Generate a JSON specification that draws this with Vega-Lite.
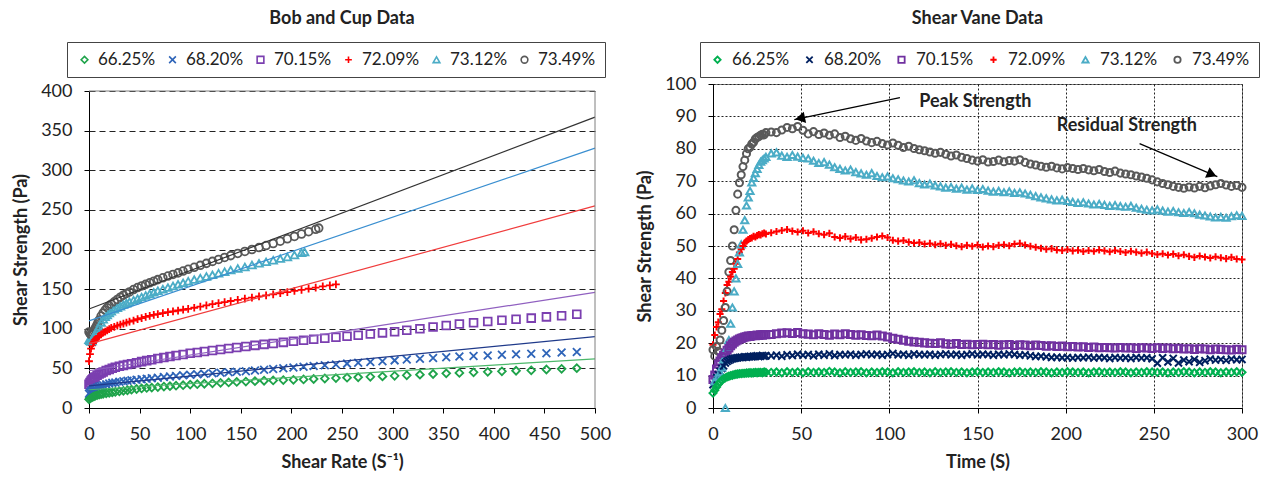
{
"$schema": "https://vega.github.io/schema/vega-lite/v6.json",
"padding": {"left": 12, "top": 9, "right": 1, "bottom": 2},
"background": "white",
"spacing": 25,
"config": {
  "font": "Lato",
  "view": {"stroke": "#7f7f7f", "strokeWidth": 1},
  "axis": {"labelFont": "Lato", "labelFontSize": 18, "labelColor": "#222", "labelOverlap": false, "labelFlush": false, "titleFont": "Lato", "titleFontSize": 18, "titleFontWeight": "bold", "titleColor": "#222", "domainColor": "#000", "tickColor": "#000", "tickSize": 5, "gridColor": "#222", "gridWidth": 1, "labelPadding": 12, "titlePadding": 10},
  "title": {"font": "Lato", "fontSize": 18, "fontWeight": "bold", "color": "#222"},
  "legend": {"labelFont": "Lato", "labelFontSize": 17, "labelColor": "#222"}
},
"hconcat": [
{
  "width": 506, "height": 324,
  "view": {"stroke": null},
  "title": {"text": "Bob and Cup Data", "offset": 14},
  "data": {"values": [
    {"x":0,"a":11,"b":18,"c":30},{"x":1,"a":12.2,"b":19.5,"c":32},{"x":2,"a":13.1,"b":21,"c":34},{"x":3,"a":13.9,"b":22.2,"c":35.5},{"x":4,"a":14.5,"b":23.2,"c":36.8},{"x":5,"a":15,"b":24,"c":38},{"x":6,"a":15.4,"b":24.7,"c":39},{"x":8,"a":16.2,"b":25.9,"c":41.2},{"x":10,"a":17,"b":27,"c":43},{"x":12,"a":17.5,"b":27.9,"c":44.3},{"x":14,"a":18,"b":28.7,"c":45.5},{"x":17,"a":18.6,"b":29.8,"c":47.2},{"x":20,"a":19.2,"b":30.9,"c":48.7},{"x":23,"a":19.7,"b":31.7,"c":50.1},{"x":26,"a":20.3,"b":32.3,"c":51.4},{"x":30,"a":21,"b":33.1,"c":52.7},{"x":34,"a":21.7,"b":33.8,"c":53.8},{"x":38,"a":22.4,"b":34.4,"c":54.9},{"x":42,"a":23.1,"b":34.9,"c":55.9},{"x":47,"a":24,"b":35.6,"c":57.2},{"x":52,"a":24.7,"b":36.3,"c":58.5},{"x":57,"a":25.3,"b":37,"c":59.8},{"x":62,"a":25.8,"b":37.6,"c":61},{"x":68,"a":26.4,"b":38.3,"c":62.4},{"x":74,"a":27,"b":39,"c":63.8},{"x":80,"a":27.6,"b":39.7,"c":65},{"x":86,"a":28.2,"b":40.4,"c":66.2},{"x":93,"a":28.8,"b":41.2,"c":67.5},{"x":100,"a":29.5,"b":42,"c":69},{"x":107,"a":30,"b":42.6,"c":70.1},{"x":114,"a":30.6,"b":43.2,"c":71.3},{"x":122,"a":31.2,"b":43.8,"c":72.5},{"x":130,"a":31.8,"b":44.4,"c":73.8},{"x":138,"a":32.3,"b":45,"c":75.1},{"x":146,"a":32.9,"b":45.7,"c":76.4},{"x":155,"a":33.4,"b":46.5,"c":77.7},{"x":164,"a":33.9,"b":47.4,"c":79},{"x":173,"a":34.4,"b":48.3,"c":80.3},{"x":182,"a":34.8,"b":49.2,"c":81.5},{"x":192,"a":35.2,"b":50.2,"c":82.8},{"x":202,"a":35.6,"b":51.2,"c":84.2},{"x":212,"a":36.1,"b":52.1,"c":85.5},{"x":222,"a":36.6,"b":53,"c":86.8},{"x":233,"a":37.2,"b":54,"c":88},{"x":244,"a":37.7,"b":55,"c":89.3},{"x":255,"a":38.2,"b":56,"c":90.6},{"x":266,"a":38.8,"b":57,"c":91.9},{"x":278,"a":39.3,"b":58,"c":93.3},{"x":290,"a":39.9,"b":59.1,"c":94.8},{"x":302,"a":40.6,"b":60.1,"c":96.3},{"x":314,"a":41.3,"b":61.1,"c":98.1},{"x":327,"a":42.1,"b":62.1,"c":100},{"x":340,"a":42.9,"b":63.1,"c":102.2},{"x":353,"a":43.7,"b":64.1,"c":104.2},{"x":366,"a":44.3,"b":64.9,"c":105.9},{"x":380,"a":45,"b":65.6,"c":107.6},{"x":394,"a":45.6,"b":66.3,"c":109.2},{"x":408,"a":46.3,"b":67.1,"c":110.7},{"x":422,"a":47,"b":67.8,"c":112},{"x":437,"a":47.6,"b":68.5,"c":113.4},{"x":452,"a":48.6,"b":69.2,"c":115},{"x":467,"a":49.4,"b":70,"c":116.5},{"x":482,"a":50.3,"b":70.8,"c":118.2},
    {"x":0,"d":59,"e":86,"f":96},{"x":1,"d":68,"e":85,"f":94},{"x":2,"d":75,"e":84,"f":92.5},{"x":3,"d":79,"e":84.5,"f":92},{"x":4,"d":82,"e":88,"f":95},{"x":5,"d":84,"e":91,"f":97.5},{"x":6,"d":86,"e":93.5,"f":100},{"x":7,"d":87.5,"e":95.5,"f":102.5},{"x":8,"d":89,"e":97.5,"f":105},{"x":9,"d":90,"e":100,"f":108},{"x":10,"d":91,"e":103,"f":111},{"x":12,"d":93,"e":108,"f":116},{"x":14,"d":95,"e":112,"f":120},{"x":16,"d":96.5,"e":115,"f":123.5},{"x":18,"d":98,"e":117.5,"f":126.5},{"x":20,"d":99.5,"e":120,"f":129},{"x":22,"d":101,"e":122,"f":131},{"x":25,"d":102.5,"e":124.5,"f":134},{"x":28,"d":104,"e":126.5,"f":137},{"x":31,"d":105.3,"e":128.5,"f":139.8},{"x":34,"d":106.5,"e":130.5,"f":142.3},{"x":37,"d":107.7,"e":132.3,"f":144.5},{"x":40,"d":109,"e":134,"f":146.5},{"x":44,"d":110.4,"e":136,"f":149.5},{"x":48,"d":112,"e":138,"f":152},{"x":52,"d":113.5,"e":140,"f":154},{"x":56,"d":115,"e":142,"f":156},{"x":60,"d":116.3,"e":144,"f":158},{"x":64,"d":117.4,"e":146,"f":160},{"x":68,"d":118.5,"e":148,"f":162},{"x":73,"d":119.8,"e":150,"f":164.3},{"x":78,"d":121,"e":152,"f":166.5},{"x":83,"d":122,"e":154,"f":168.5},{"x":88,"d":123,"e":156,"f":170.5},{"x":93,"d":124,"e":158,"f":172.8},{"x":98,"d":125,"e":160,"f":175},{"x":104,"d":126.5,"e":162,"f":177.5},{"x":110,"d":128,"e":164,"f":180},{"x":116,"d":129.5,"e":166,"f":182.5},{"x":122,"d":131,"e":168,"f":185},{"x":128,"d":132.3,"e":170,"f":187.5},{"x":134,"d":133.6,"e":172,"f":190},{"x":140,"d":135,"e":174,"f":192.3},{"x":147,"d":136.5,"e":176,"f":195},{"x":154,"d":138,"e":178,"f":197.5},{"x":161,"d":139.4,"e":180.5,"f":200},{"x":168,"d":140.8,"e":182.5,"f":202.5},{"x":175,"d":142.2,"e":184.5,"f":205},{"x":182,"d":143.5,"e":186.5,"f":207.5},{"x":189,"d":144.8,"e":188.5,"f":210.5},{"x":196,"d":146.2,"e":190.5,"f":213.5},{"x":203,"d":147.7,"e":193,"f":216.5},{"x":210,"d":149,"e":196,"f":219.5},{"x":213,"e":197},{"x":217,"d":150.5,"f":222.5},{"x":224,"d":152,"f":225.5},{"x":227,"f":227},{"x":231,"d":153.4},{"x":238,"d":154.8},{"x":244,"d":156}
  ]},
  "encoding": {
    "x": {"field": "x", "type": "quantitative", "scale": {"domain": [0, 500], "nice": false}, "axis": {"values": [0,50,100,150,200,250,300,350,400,450,500], "title": "Shear Rate (S⁻¹)", "grid": false}},
    "y": {"field": "y", "type": "quantitative", "scale": {"domain": [0, 400], "nice": false, "range": [324, 7]}, "axis": {"values": [0,50,100,150,200,250,300,350,400], "title": "Shear Strength (Pa)", "grid": true, "gridDash": [6,4]}}
  },
  "layer": [
    {
      "data": {"values": [{"x":50},{"x":100},{"x":150},{"x":200},{"x":250},{"x":300},{"x":350},{"x":400},{"x":450}]},
      "mark": {"type": "rule", "strokeWidth": 1, "strokeDash": [2,2], "color": "#222"},
      "encoding": {"y": {"datum": 0, "type": "quantitative"}, "y2": {"datum": 400}}
    },
    {
      "transform": [{"fold": ["a","b","c","d","e","f"], "as": ["k","y"]}, {"filter": "isValid(datum.y)"}],
      "mark": {"type": "point", "filled": false, "strokeWidth": 1.8, "size": 60, "opacity": 1},
      "encoding": {
        "color": {"field": "k", "type": "nominal", "scale": {"domain": ["a","b","c","d","e","f"], "range": ["#1ea34a","#2e64b8","#7b3fb0","#ff0000","#4bacc6","#595959"]},
          "legend": {"orient": "none", "legendX": -22, "legendY": -42, "direction": "horizontal", "title": null, "strokeColor": "#444", "padding": 9, "columnPadding": 8, "symbolSize": 45, "symbolStrokeWidth": 1.6, "labelOffset": 5,
            "labelExpr": "datum.value=='a'?'66.25%':datum.value=='b'?'68.20%':datum.value=='c'?'70.15%':datum.value=='d'?'72.09%':datum.value=='e'?'73.12%':'73.49%'",
            "encode": {"symbols": {"update": {"stroke": {"signal": "datum.value=='a'?'#2e8b3e':datum.value=='b'?'#333399':datum.value=='c'?'#7aa6d8':datum.value=='d'?'#ff0000':datum.value=='e'?'#4bacc6':'#7f7f7f'"}}}}}},
        "shape": {"field": "k", "type": "nominal", "scale": {"domain": ["a","b","c","d","e","f"], "range": ["diamond","M-1,-1L1,1M1,-1L-1,1","square","M-1,0L1,0M0,-1L0,1","triangle-up","circle"]}}
      }
    },
    {
      "data": {"values": [
        {"k":"a","x":0,"y":23,"x2":500,"y2":62},
        {"k":"b","x":0,"y":28,"x2":500,"y2":90},
        {"k":"c","x":0,"y":47,"x2":500,"y2":146},
        {"k":"d","x":0,"y":81,"x2":500,"y2":255},
        {"k":"e","x":0,"y":110,"x2":500,"y2":328},
        {"k":"f","x":0,"y":125,"x2":500,"y2":367}
      ]},
      "mark": {"type": "rule", "strokeWidth": 1.2},
      "encoding": {
        "x2": {"field": "x2"},
        "y2": {"field": "y2"},
        "stroke": {"field": "k", "type": "nominal", "scale": {"domain": ["a","b","c","d","e","f"], "range": ["#4cb86a","#1f3a8a","#9060c0","#f03c3c","#3a8fd0","#333333"]}, "legend": null}
      }
    },
    {
      "data": {"values": [{"x": 0, "y": 400, "x2": 500, "y2": 400}, {"x": 500, "y": 0, "x2": 500, "y2": 400}]},
      "mark": {"type": "rule", "strokeWidth": 1, "color": "#7f7f7f"},
      "encoding": {"x2": {"field": "x2"}, "y2": {"field": "y2"}}
    }
  ]
},
{
  "width": 529, "height": 324,
  "title": {"text": "Shear Vane Data", "offset": 14},
  "data": {"values": [
    {"t":0,"a":4.6,"b":7.2,"c":8.8,"d":19.5,"f":18},
    {"t":1,"a":5.5,"b":8.3,"c":10.2,"d":22.5,"e":8.2,"f":16},
    {"t":2,"a":6.5,"b":9.5,"c":12,"d":25,"e":9.5,"f":19},
    {"t":3,"a":7.3,"b":10.3,"c":13.5,"d":26.5,"e":9.8,"f":17.5},
    {"t":4,"a":8,"b":11.3,"c":14.5,"d":29,"e":11,"f":21},
    {"t":5,"a":8.6,"b":12.2,"c":15.5,"d":30.5,"e":12.5,"f":24},
    {"t":6,"a":9,"b":13,"c":16.3,"d":33,"e":15,"f":27},
    {"t":7,"a":9.3,"b":13.9,"c":17,"d":35.5,"e":0,"f":31},
    {"t":8,"a":9.6,"b":14.4,"c":17.8,"d":38,"e":18.5,"f":36},
    {"t":9,"a":9.8,"b":14.7,"c":18.5,"d":39,"e":21,"f":42},
    {"t":10,"a":10,"b":15,"c":19.2,"d":40.5,"e":26,"f":45.5},
    {"t":11,"a":10.1,"b":15.2,"c":19.8,"d":42,"e":31,"f":50},
    {"t":12,"a":10.3,"b":15.3,"c":20.3,"d":43,"e":36,"f":55},
    {"t":13,"a":10.4,"b":15.4,"c":20.7,"d":44.5,"e":40,"f":61},
    {"t":14,"a":10.5,"b":15.5,"c":21,"d":46,"e":44.5,"f":66},
    {"t":15,"a":10.6,"b":15.6,"c":21.3,"d":48,"e":48,"f":69.5},
    {"t":16,"a":10.6,"b":15.7,"c":21.5,"d":49,"e":50.5,"f":72},
    {"t":17,"a":10.7,"b":15.6,"c":21.7,"d":50,"e":55,"f":74.5},
    {"t":18,"a":10.7,"b":15.8,"c":21.9,"d":51,"e":58,"f":76.5},
    {"t":19,"a":10.8,"b":15.7,"c":22,"d":51.5,"e":62.5,"f":78.5},
    {"t":20,"a":10.8,"b":15.8,"c":22.2,"d":52,"e":65,"f":80},
    {"t":21,"a":10.9,"b":15.9,"c":22.1,"d":52.3,"e":67,"f":80.5},
    {"t":22,"a":10.8,"b":15.8,"c":22.3,"d":52.5,"e":69.6,"f":81.5},
    {"t":23,"a":10.9,"b":16,"c":22.4,"d":53,"e":71,"f":82},
    {"t":24,"a":11,"b":15.9,"c":22.3,"d":52.8,"e":72.5,"f":83},
    {"t":25,"a":10.9,"b":16.1,"c":22.5,"d":53.2,"e":73.8,"f":83.5},
    {"t":26,"a":11,"b":15.9,"c":22.4,"d":53.5,"e":75,"f":83.8},
    {"t":27,"a":11,"b":16,"c":22.6,"d":53.4,"e":76,"f":84.2},
    {"t":28,"a":10.9,"b":16.2,"c":22.5,"d":53.8,"e":76.5,"f":84.5},
    {"t":29,"a":11.1,"b":16,"c":22.7,"d":54,"e":77,"f":84.3},
    {"t":30,"a":11,"b":16.1,"c":22.6,"d":53.7,"e":77.5,"f":85},
    {"t":33,"a":11,"b":16.1,"c":22.7,"d":54.1,"e":78.6,"f":85.2},
    {"t":36,"a":11.1,"b":16.3,"c":22.9,"d":54.5,"e":78.9,"f":85},
    {"t":39,"a":10.9,"b":16,"c":23.1,"d":54.8,"e":77.9,"f":85.8},
    {"t":42,"a":11.2,"b":16.4,"c":23.2,"d":55.1,"e":77.5,"f":86.6},
    {"t":45,"a":11,"b":16.2,"c":23,"d":54.6,"e":78.1,"f":86.2},
    {"t":48,"a":11.1,"b":16.6,"c":23.3,"d":54.3,"e":77.6,"f":86.9},
    {"t":51,"a":10.9,"b":16.3,"c":22.9,"d":54.7,"e":77.2,"f":85.7},
    {"t":54,"a":11.2,"b":16.5,"c":22.8,"d":54,"e":77,"f":84.6},
    {"t":57,"a":11,"b":16.1,"c":22.6,"d":54.4,"e":76.3,"f":85.3},
    {"t":60,"a":11.1,"b":16.6,"c":22.9,"d":53.8,"e":75.6,"f":84.4},
    {"t":63,"a":11,"b":16.3,"c":22.7,"d":53.5,"e":75.9,"f":84.9},
    {"t":66,"a":11.3,"b":16.7,"c":22.5,"d":53.9,"e":75.1,"f":84.2},
    {"t":69,"a":11.1,"b":16.2,"c":22.8,"d":52.8,"e":74.3,"f":84.6},
    {"t":72,"a":10.9,"b":16.5,"c":22.6,"d":52.5,"e":73.8,"f":83.5},
    {"t":75,"a":11.2,"b":16.4,"c":22.9,"d":52.9,"e":73.3,"f":83.9},
    {"t":78,"a":11,"b":16.6,"c":22.7,"d":52.2,"e":73.6,"f":83.1},
    {"t":81,"a":11.1,"b":16.3,"c":22.5,"d":52.6,"e":72.8,"f":82.6},
    {"t":84,"a":11.2,"b":16.5,"c":22.6,"d":51.9,"e":72.4,"f":83.2},
    {"t":87,"a":10.9,"b":16.7,"c":22.4,"d":52.1,"e":72,"f":82.4},
    {"t":90,"a":11.1,"b":16.4,"c":22.3,"d":52.4,"e":72.5,"f":81.9},
    {"t":93,"a":11,"b":16.6,"c":22.5,"d":52.8,"e":71.6,"f":82.3},
    {"t":96,"a":11.2,"b":16.3,"c":22.2,"d":53.1,"e":71.2,"f":81.6},
    {"t":99,"a":11.1,"b":16.5,"c":21.9,"d":52.6,"e":71.5,"f":81.2},
    {"t":102,"a":10.9,"b":16.8,"c":21.5,"d":51.8,"e":70.9,"f":81.8},
    {"t":105,"a":11.2,"b":16.4,"c":21.2,"d":51.5,"e":70.6,"f":81.1},
    {"t":108,"a":11,"b":16.6,"c":20.9,"d":51.7,"e":70.2,"f":80.4},
    {"t":111,"a":11.1,"b":16.3,"c":20.6,"d":51.2,"e":69.9,"f":80.8},
    {"t":114,"a":11.2,"b":16.7,"c":20.4,"d":50.9,"e":70.3,"f":80.1},
    {"t":117,"a":11,"b":16.5,"c":20.3,"d":51.1,"e":69.4,"f":79.7},
    {"t":120,"a":11.1,"b":16.4,"c":20.1,"d":50.6,"e":69,"f":79.4},
    {"t":123,"a":10.9,"b":16.6,"c":20,"d":50.8,"e":69.3,"f":79},
    {"t":126,"a":11.2,"b":16.3,"c":19.9,"d":50.4,"e":68.7,"f":78.6},
    {"t":129,"a":11,"b":16.5,"c":20.1,"d":50.7,"e":68.4,"f":78.9},
    {"t":132,"a":11.1,"b":16.7,"c":19.8,"d":50.2,"e":68,"f":78.3},
    {"t":135,"a":11.2,"b":16.4,"c":19.7,"d":50.5,"e":68.2,"f":77.8},
    {"t":138,"a":11,"b":16.6,"c":19.9,"d":50.1,"e":67.7,"f":78.1},
    {"t":141,"a":11.1,"b":16.3,"c":19.6,"d":49.8,"e":68,"f":77.4},
    {"t":144,"a":10.9,"b":16.5,"c":19.7,"d":50.2,"e":67.4,"f":77},
    {"t":147,"a":11.1,"b":16.7,"c":19.5,"d":49.9,"e":67.8,"f":76.5},
    {"t":150,"a":11.2,"b":16.4,"c":19.6,"d":50.3,"e":67.3,"f":76.2},
    {"t":153,"a":11,"b":16.6,"c":19.7,"d":49.7,"e":67.6,"f":76.6},
    {"t":156,"a":11.1,"b":16.5,"c":19.5,"d":50,"e":67.1,"f":75.9},
    {"t":159,"a":11,"b":16.3,"c":19.6,"d":49.8,"e":66.8,"f":76.1},
    {"t":162,"a":11.2,"b":16.6,"c":19.4,"d":50.2,"e":67,"f":76.5},
    {"t":165,"a":11.1,"b":16.4,"c":19.5,"d":50.4,"e":66.6,"f":76},
    {"t":168,"a":10.9,"b":16.7,"c":19.6,"d":50.1,"e":66.9,"f":76.4},
    {"t":171,"a":11.1,"b":16.5,"c":19.3,"d":50.6,"e":66.4,"f":76.2},
    {"t":174,"a":11.2,"b":16.3,"c":19.5,"d":50.8,"e":66.6,"f":76.6},
    {"t":177,"a":11,"b":16.4,"c":19.4,"d":50.3,"e":66.2,"f":75.8},
    {"t":180,"a":11.1,"b":16.1,"c":19.2,"d":49.9,"e":65.8,"f":75.3},
    {"t":183,"a":11,"b":15.9,"c":19.4,"d":49.6,"e":65.4,"f":75},
    {"t":186,"a":11.2,"b":16,"c":19.3,"d":49.3,"e":65,"f":74.6},
    {"t":189,"a":11.1,"b":15.8,"c":19.1,"d":49,"e":64.7,"f":74.3},
    {"t":192,"a":10.9,"b":15.6,"c":19.2,"d":49.2,"e":64.4,"f":74.6},
    {"t":195,"a":11.1,"b":15.7,"c":19,"d":48.8,"e":64.1,"f":74.1},
    {"t":198,"a":11,"b":15.5,"c":19.1,"d":48.6,"e":64.3,"f":73.8},
    {"t":201,"a":11.2,"b":15.6,"c":18.9,"d":48.9,"e":63.9,"f":74.2},
    {"t":204,"a":11.1,"b":15.4,"c":19,"d":48.5,"e":63.6,"f":73.9},
    {"t":207,"a":11,"b":15.6,"c":18.8,"d":48.7,"e":63.3,"f":73.6},
    {"t":210,"a":11.1,"b":15.5,"c":18.9,"d":48.3,"e":63.5,"f":73.9},
    {"t":213,"a":10.9,"b":15.7,"c":18.7,"d":48.6,"e":63.1,"f":73.5},
    {"t":216,"a":11.1,"b":15.4,"c":18.8,"d":48.4,"e":62.8,"f":73.2},
    {"t":219,"a":11.2,"b":15.6,"c":18.6,"d":48.8,"e":63,"f":73.6},
    {"t":222,"a":11,"b":15.5,"c":18.7,"d":48.5,"e":62.7,"f":73},
    {"t":225,"a":11.1,"b":15.3,"c":18.6,"d":48.2,"e":62.4,"f":72.7},
    {"t":228,"a":11,"b":15.6,"c":18.5,"d":48.6,"e":62.6,"f":73.1},
    {"t":231,"a":11.2,"b":15.4,"c":18.7,"d":48.3,"e":62.3,"f":72.5},
    {"t":234,"a":11.1,"b":15.5,"c":18.5,"d":48,"e":62.1,"f":72.2},
    {"t":237,"a":10.9,"b":15.3,"c":18.6,"d":48.4,"e":62.4,"f":72},
    {"t":240,"a":11.1,"b":15.6,"c":18.4,"d":48.1,"e":61.8,"f":71.6},
    {"t":243,"a":11,"b":15.4,"c":18.6,"d":47.8,"e":61.5,"f":71.3},
    {"t":246,"a":11.2,"b":15.5,"c":18.5,"d":48.1,"e":61.2,"f":70.9},
    {"t":249,"a":11.1,"b":15.2,"c":18.4,"d":47.7,"e":61,"f":70.4},
    {"t":252,"a":11,"b":13.8,"c":18.6,"d":47.4,"e":61.3,"f":69.8},
    {"t":255,"a":11.1,"b":15.5,"c":18.4,"d":47.6,"e":60.9,"f":69.3},
    {"t":258,"a":10.9,"b":14.2,"c":18.5,"d":47.2,"e":60.6,"f":68.9},
    {"t":261,"a":11.1,"b":15.3,"c":18.3,"d":47.5,"e":60.8,"f":68.4},
    {"t":264,"a":11,"b":13.9,"c":18.4,"d":47,"e":60.4,"f":68.1},
    {"t":267,"a":11.2,"b":14.8,"c":18.2,"d":47.3,"e":60.2,"f":67.8},
    {"t":270,"a":11.1,"b":14.3,"c":18.3,"d":46.8,"e":60.5,"f":68.2},
    {"t":273,"a":10.9,"b":15,"c":18.1,"d":46.5,"e":60.1,"f":67.9},
    {"t":276,"a":11.1,"b":14.1,"c":18.3,"d":46.9,"e":59.7,"f":68.4},
    {"t":279,"a":11,"b":14.6,"c":18.2,"d":46.6,"e":59.4,"f":68},
    {"t":282,"a":11.2,"b":15.1,"c":18,"d":46.3,"e":59.1,"f":68.5},
    {"t":285,"a":11.1,"b":14.8,"c":18.2,"d":46.7,"e":58.8,"f":68.9},
    {"t":288,"a":10.9,"b":15,"c":18.1,"d":46.4,"e":59,"f":69.3},
    {"t":291,"a":11.1,"b":14.7,"c":18,"d":46.1,"e":58.7,"f":68.8},
    {"t":294,"a":11,"b":15.1,"c":17.9,"d":46.5,"e":59.2,"f":68.4},
    {"t":297,"a":11.2,"b":14.9,"c":18.1,"d":46,"e":59.5,"f":68.7},
    {"t":300,"a":11,"b":15,"c":18,"d":45.8,"e":59.3,"f":68.1}
  ]},
  "encoding": {
    "x": {"field": "t", "type": "quantitative", "scale": {"domain": [0, 300], "nice": false}, "axis": {"values": [0,50,100,150,200,250,300], "title": "Time (S)", "grid": true, "gridDash": [2,2]}},
    "y": {"field": "v", "type": "quantitative", "scale": {"domain": [0, 100], "nice": false}, "axis": {"values": [0,10,20,30,40,50,60,70,80,90,100], "title": "Shear Strength (Pa)", "grid": true, "gridDash": [2,2]}}
  },
  "layer": [
    {
      "transform": [{"fold": ["a","b","c","d","e","f"], "as": ["k","v"]}, {"filter": "isValid(datum.v)"}],
      "mark": {"type": "point", "filled": false, "strokeWidth": 2, "size": 50, "opacity": 1},
      "encoding": {
        "color": {"field": "k", "type": "nominal", "scale": {"domain": ["a","b","c","d","e","f"], "range": ["#00b050","#002060","#7030a0","#ff0000","#4bacc6","#595959"]},
          "legend": {"orient": "none", "legendX": -13, "legendY": -42, "direction": "horizontal", "title": null, "strokeColor": "#444", "padding": 9, "columnPadding": 11, "symbolSize": 40, "symbolStrokeWidth": 1.8, "labelOffset": 6,
            "labelExpr": "datum.value=='a'?'66.25%':datum.value=='b'?'68.20%':datum.value=='c'?'70.15%':datum.value=='d'?'72.09%':datum.value=='e'?'73.12%':'73.49%'"}},
        "shape": {"field": "k", "type": "nominal", "scale": {"domain": ["a","b","c","d","e","f"], "range": ["diamond","M-1,-1L1,1M1,-1L-1,1","square","M-1,0L1,0M0,-1L0,1","triangle-up","circle"]}}
      }
    },
    {
      "data": {"values": [{"t": 106, "v": 95.8, "t2": 46.1, "v2": 89}, {"t": 241.9, "v": 81.6, "t2": 286, "v2": 71.4}]},
      "mark": {"type": "rule", "strokeWidth": 1.2, "color": "#000"},
      "encoding": {"x2": {"field": "t2"}, "y2": {"field": "v2"}}
    },
    {
      "data": {"values": [{"t": 49.4, "v": 89.4}]},
      "mark": {"type": "point", "shape": "triangle-up", "filled": true, "color": "#000", "size": 130, "angle": 258, "opacity": 1}
    },
    {
      "data": {"values": [{"t": 282.9, "v": 72.1}]},
      "mark": {"type": "point", "shape": "triangle-up", "filled": true, "color": "#000", "size": 130, "angle": 113, "opacity": 1}
    },
    {
      "data": {"values": [{"t": 148.8, "v": 94.5, "label": "Peak Strength"}, {"t": 234.7, "v": 86.9, "label": "Residual Strength"}]},
      "mark": {"type": "text", "font": "Lato", "fontSize": 18, "fontWeight": "bold", "color": "#222", "align": "center", "baseline": "middle"},
      "encoding": {"text": {"field": "label"}}
    }
  ]
}
],
"resolve": {"scale": {"color": "independent", "shape": "independent", "stroke": "independent", "x": "independent", "y": "independent"}, "legend": {"color": "independent", "shape": "independent"}}
}
